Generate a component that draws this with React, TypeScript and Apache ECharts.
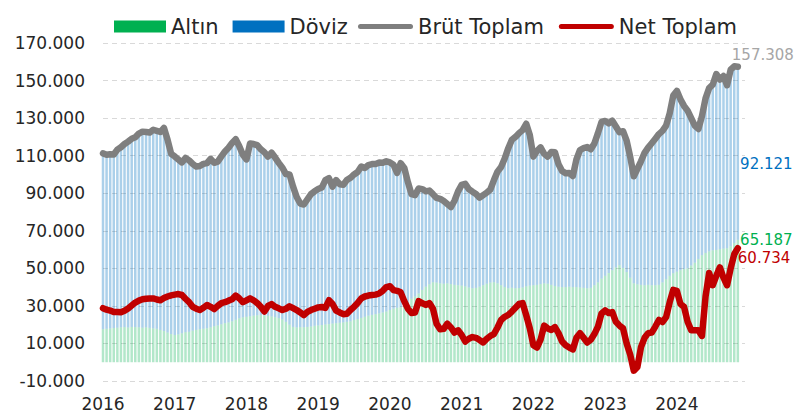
import React, { useEffect, useRef } from "react";
import * as echarts from "echarts";

const FONT = "DejaVu Sans";

const YEARS = ["2016", "2017", "2018", "2019", "2020", "2021", "2022", "2023", "2024"];
const POINTS_PER_YEAR = 20;

const SERIES_NAMES = ["Altın", "Döviz", "Brüt Toplam", "Net Toplam"];

// Brüt Toplam (billion USD, shown as "157.308")
const BRUT = [
  111.2, 110.5, 110.8, 110.6, 113.2, 114.5, 116.2, 117.5, 119.0, 119.8, 121.8, 122.8, 122.6, 122.3, 123.8, 123.2, 122.6, 124.8, 118.5, 111.0,
  109.6, 108.0, 106.4, 108.8, 107.5, 105.6, 104.2, 104.5, 105.6, 106.0, 108.3, 106.2, 106.8, 109.6, 112.2, 114.2, 116.8, 118.8, 115.0, 110.5,
  108.0, 116.5, 116.2, 115.6, 113.4, 111.8, 109.5, 111.6, 109.0, 106.2, 103.6, 100.2, 100.0, 93.5, 88.0, 84.5, 84.0, 86.8, 89.5, 91.0,
  92.2, 93.0, 97.0, 98.0, 93.5, 97.0, 94.8, 94.5, 97.0, 98.2, 100.0, 101.3, 104.2, 103.4, 105.0, 105.5, 105.6, 106.3, 106.2, 107.0,
  106.4, 105.2, 100.8, 106.0, 103.5, 96.0, 89.5, 89.0, 92.5, 92.2, 91.0, 91.4, 89.5, 87.5, 87.0, 85.8, 84.2, 82.6, 86.0, 91.0,
  94.4, 95.0, 92.2, 90.8, 89.6, 87.6, 89.0, 90.3, 92.0, 97.0, 101.5, 104.0, 108.5, 114.0, 118.5, 120.0, 122.0, 123.6, 127.0, 121.0,
  109.5, 112.5, 114.4, 111.0, 109.5, 112.0, 111.8, 105.5, 101.8, 100.6, 100.8, 99.2, 108.0, 113.0, 114.0, 114.6, 113.4, 116.5, 122.0, 128.0,
  128.5, 127.2, 128.6, 125.5, 122.5, 123.0, 118.0, 109.3, 99.0, 103.0, 107.0, 111.5, 114.3, 116.6, 119.0, 121.5, 123.2, 126.0, 132.5, 142.0,
  144.5, 140.0, 136.5, 134.0, 130.0, 126.0, 124.2, 131.0, 140.5, 146.0, 147.8, 153.5, 150.5, 152.4, 147.5, 155.8, 157.6, 157.308,
];

// Altın (gold part of gross reserves)
const ALTIN = [
  17.6, 17.8, 18.0, 18.2, 18.4, 18.6, 18.7, 18.5, 18.8, 18.7, 18.6, 18.4, 18.6, 18.3, 18.0, 17.8, 17.2, 16.6, 15.8, 15.0,
  14.5, 14.8, 15.4, 16.0, 16.2, 16.8, 17.2, 17.6, 17.8, 18.1, 18.6, 19.2, 19.6, 20.2, 20.8, 21.2, 21.8, 22.6, 23.4, 23.9,
  24.2, 24.5, 24.8, 25.0, 25.1, 25.0, 24.7, 24.4, 24.0, 23.5, 22.8, 21.5, 20.0, 18.8, 18.5, 18.7, 18.6, 18.8, 19.0, 19.4,
  19.6, 19.8, 20.1, 20.3, 20.6, 20.8, 21.0, 21.2, 21.5, 21.8, 22.5, 23.0, 23.6, 24.2, 24.8, 25.2, 25.6, 26.0, 26.5, 27.0,
  27.8, 28.5, 29.0, 29.4, 30.8, 32.2, 33.8, 35.0, 36.6, 38.5, 40.2, 41.5, 42.6, 42.4, 42.0, 41.8, 42.0, 41.6, 41.2, 41.0,
  40.8, 40.4, 39.8, 39.4, 39.6, 40.2, 41.0, 41.8, 42.4, 42.6, 42.0, 41.0, 40.0, 39.4, 39.6, 39.4, 39.5, 39.8, 40.4, 40.8,
  41.0, 41.2, 41.6, 42.0, 41.8, 41.2, 40.6, 40.2, 40.0, 40.0, 40.2, 40.0, 40.0, 39.8, 39.6, 39.4, 39.6, 41.0, 42.5, 44.5,
  46.0, 47.5, 49.0, 50.5, 51.7, 50.2, 48.0, 45.0, 42.0, 41.5, 41.2, 41.0, 41.2, 41.0, 41.0, 41.2, 42.5, 44.2, 46.0, 47.4,
  48.2, 49.0, 49.6, 50.0, 51.5, 53.0, 55.0, 57.0, 58.2, 59.0, 59.6, 59.8, 60.2, 60.5, 60.7, 61.8, 63.5, 65.187,
];

// Net Toplam
const NET = [
  28.8, 28.0, 27.5, 26.7, 26.8, 26.6, 27.4, 28.6, 30.2, 31.8, 32.8, 33.5, 33.8, 33.9, 34.0, 33.4, 33.0, 34.2, 35.0, 35.6,
  36.0, 36.3, 35.8, 33.8, 32.0, 29.5, 28.5, 27.8, 29.0, 30.5, 29.5, 28.3, 30.0, 31.5, 32.0, 32.8, 33.5, 35.5, 34.0, 32.0,
  33.0, 34.0, 33.0, 31.5, 29.5, 27.0, 30.0, 31.0, 29.5, 28.7, 27.8, 28.5, 29.8, 28.8, 27.8, 26.5, 25.1, 26.8, 27.8, 28.5,
  29.2, 29.4, 28.9, 33.0, 31.0, 27.5, 26.5, 25.6, 25.8, 27.8, 29.5, 31.5, 34.0, 35.0, 35.5, 35.8, 36.0, 36.6, 38.0, 40.0,
  40.5, 38.4, 38.0, 37.2, 32.5, 28.5, 26.2, 26.5, 32.5, 31.5, 30.5, 31.5, 28.5, 20.5, 17.5, 17.8, 20.5, 18.5, 15.8, 17.0,
  14.5, 11.0, 12.5, 13.4, 13.0, 11.8, 10.5, 12.5, 14.0, 15.0, 18.5, 22.5, 24.2, 25.2, 27.0, 29.0, 31.0, 31.5, 25.0, 18.0,
  9.0, 7.8, 12.0, 19.5, 18.0, 17.2, 18.7, 15.5, 11.0, 9.0, 7.8, 6.8, 13.0, 15.5, 13.0, 10.5, 12.0, 15.0, 19.0, 26.0,
  27.6, 26.2, 26.7, 21.5, 19.5, 18.0, 10.0, 4.0, -4.5, -2.5, 8.0, 13.0, 15.5, 15.8, 19.0, 22.5, 21.4, 24.0, 32.0, 38.5,
  38.0, 31.0, 29.5, 21.5, 17.0, 17.0, 17.0, 14.0, 35.0, 47.5, 41.0, 46.0, 50.5, 45.0, 41.0, 50.0, 57.5, 60.734,
];

const Y_MIN = -10;
const Y_MAX = 170;
const Y_STEP = 20;

const CATEGORIES = YEARS.flatMap((y) =>
  Array.from({ length: POINTS_PER_YEAR }, (_, k) => `${y}-${k}`)
);

const fmt = (v: number) => Number(v).toFixed(3);

const CAPSULE = "path://M2.5,0 L52.5,0 A2.5,2.5 0 0 1 52.5,5 L2.5,5 A2.5,2.5 0 0 1 2.5,0 Z";
const END_FONT = 15;

export default function App() {
  const ref = useRef<HTMLDivElement>(null);

  useEffect(() => {
    document.body.style.margin = "0";
    if (!ref.current) return;
    const chart = echarts.init(ref.current, undefined, { renderer: "svg" });
    const last = BRUT.length - 1;
    const DOVIZ = BRUT.map((b, i) => Number((b - ALTIN[i]).toFixed(3)));

    const altinData = ALTIN.map((v, i) =>
      i === last
        ? {
            value: v,
            label: {
              show: true,
              position: ["100%", 0],
              align: "left",
              verticalAlign: "middle",
              offset: [1, 0],
            },
          }
        : v
    );
    const dovizData = DOVIZ.map((v, i) =>
      i === last
        ? {
            value: v,
            label: {
              show: true,
              position: "right",
              distance: 5,
              offset: [-4, 11],
            },
          }
        : v
    );

    const legendText = { fontFamily: FONT, fontSize: 21, color: "#262626" };

    chart.setOption({
      animation: false,
      backgroundColor: "#ffffff",
      textStyle: { fontFamily: FONT },
      grid: { left: 103, right: 50, top: 43, bottom: 35, containLabel: false },
      legend: [
        {
          top: 16,
          left: 114,
          padding: 0,
          itemWidth: 52,
          itemHeight: 12,
          itemGap: 14,
          textStyle: legendText,
          data: [
            { name: SERIES_NAMES[0], icon: "rect", itemStyle: { color: "#00B050", opacity: 1 } },
            { name: SERIES_NAMES[1], icon: "rect", itemStyle: { color: "#0070C0", opacity: 1 } },
          ],
        },
        {
          top: 16,
          left: 358,
          padding: 0,
          itemWidth: 55,
          itemHeight: 5,
          itemGap: 15,
          textStyle: legendText,
          data: [
            { name: SERIES_NAMES[2], icon: CAPSULE, itemStyle: { color: "#7F7F7F" } },
            { name: SERIES_NAMES[3], icon: CAPSULE, itemStyle: { color: "#C00000" } },
          ],
        },
      ],
      xAxis: {
        type: "category",
        data: CATEGORIES,
        boundaryGap: false,
        axisLine: { show: false },
        axisTick: { show: false },
        splitLine: { show: false },
        axisLabel: {
          fontFamily: FONT,
          fontSize: 17,
          color: "#262626",
          margin: 14,
          interval: (index: number) => index % POINTS_PER_YEAR === 0,
          formatter: (val: string) => val.split("-")[0],
        },
      },
      yAxis: {
        type: "value",
        min: Y_MIN,
        max: Y_MAX,
        interval: Y_STEP,
        axisLine: { show: false },
        axisTick: { show: false },
        splitLine: { lineStyle: { color: "#d9d9d9", type: [5, 4], width: 1 } },
        axisLabel: {
          fontFamily: FONT,
          fontSize: 17,
          color: "#262626",
          margin: 18,
          formatter: (v: number) => fmt(v),
        },
      },
      series: [
        {
          name: SERIES_NAMES[0],
          type: "bar",
          stack: "rezerv",
          barCategoryGap: "30%",
          itemStyle: { color: "rgba(0,176,80,0.3)" },
          label: {
            show: false,
            formatter: (p: any) => fmt(p.value),
            color: "#00B050",
            fontFamily: FONT,
            fontSize: END_FONT,
          },
          data: altinData,
          z: 1,
        },
        {
          name: SERIES_NAMES[1],
          type: "bar",
          stack: "rezerv",
          barCategoryGap: "30%",
          itemStyle: { color: "rgba(0,112,192,0.33)" },
          label: {
            show: false,
            formatter: (p: any) => fmt(p.value),
            color: "#0070C0",
            fontFamily: FONT,
            fontSize: END_FONT,
          },
          data: dovizData,
          z: 1,
        },
        {
          name: SERIES_NAMES[2],
          type: "line",
          data: BRUT,
          symbol: "none",
          showSymbol: false,
          color: "#7F7F7F",
          lineStyle: { color: "#7F7F7F", width: 6.5, cap: "round", join: "round" },
          endLabel: {
            show: true,
            formatter: (p: any) => fmt(p.value),
            color: "#A6A6A6",
            fontFamily: FONT,
            fontSize: END_FONT,
            offset: [-14, -12],
          },
          z: 3,
        },
        {
          name: SERIES_NAMES[3],
          type: "line",
          data: NET,
          symbol: "none",
          showSymbol: false,
          color: "#C00000",
          lineStyle: { color: "#C00000", width: 6.5, cap: "round", join: "round" },
          endLabel: {
            show: true,
            formatter: (p: any) => fmt(p.value),
            color: "#C00000",
            fontFamily: FONT,
            fontSize: END_FONT,
            offset: [-8, 10],
          },
          z: 4,
        },
      ],
    });

    return () => chart.dispose();
  }, []);

  return <div ref={ref} style={{ width: 795, height: 416 }} />;
}
